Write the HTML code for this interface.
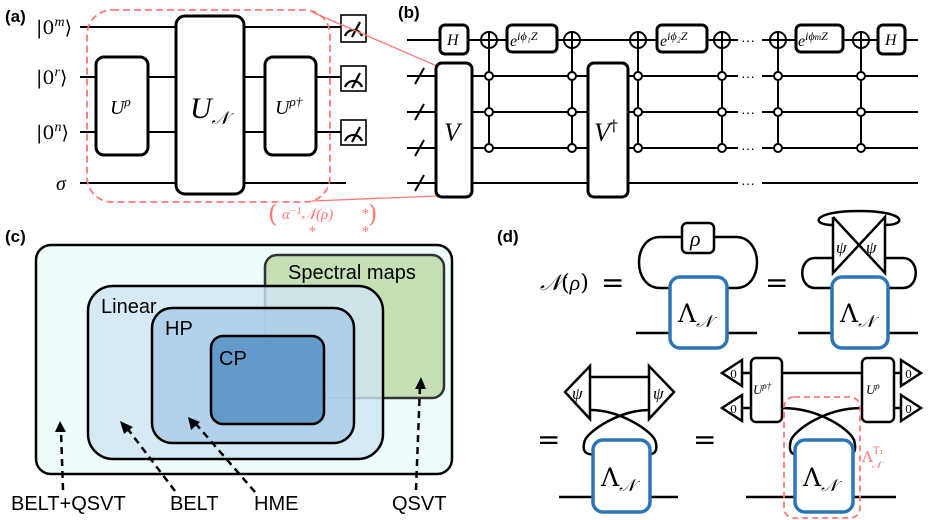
<!DOCTYPE html>
<html><head><meta charset="utf-8"><style>
html,body{margin:0;padding:0;background:#fff}
svg{display:block}
.s{font-family:"Liberation Sans",sans-serif}
.m{font-family:"Liberation Serif",serif;font-style:italic}
.k{font-family:"DejaVu Serif",serif;font-style:normal}
</style></head><body>
<svg width="947" height="520" viewBox="0 0 947 520" xmlns="http://www.w3.org/2000/svg">
<g fill="none" stroke="#000" stroke-width="2">
<line x1="80" y1="27" x2="341" y2="27"/>
<line x1="80" y1="77" x2="341" y2="77"/>
<line x1="80" y1="132" x2="341" y2="132"/>
<line x1="80" y1="183" x2="346" y2="183"/>
</g>
<g fill="#fff" stroke="#000" stroke-width="3">
<rect x="96" y="57" width="52" height="98" rx="8"/>
<rect x="176" y="16" width="68" height="178" rx="9"/>
<rect x="265" y="57" width="51" height="98" rx="8"/>
</g>
<g fill="#fff" stroke="#000" stroke-width="1.6">
<rect x="341" y="15" width="25" height="27"/>
<rect x="341" y="66" width="25" height="25"/>
<rect x="341" y="120" width="25" height="25"/>
</g>
<g fill="none" stroke="#000" stroke-width="2.2">
<path d="M345,36 A9,9 0 0 1 362,36 M352,37 L360,22"/>
<path d="M345,87 A9,9 0 0 1 362,87 M352,88 L360,73"/>
<path d="M345,141 A9,9 0 0 1 362,141 M352,142 L360,127"/>
</g>
<rect x="87" y="10" width="243" height="192" rx="25" fill="none" stroke="#f77" stroke-width="1.8" stroke-dasharray="7,4"/>
<g stroke="#f77" stroke-width="1.3"><line x1="312" y1="12" x2="437" y2="66"/><line x1="312" y1="201" x2="437" y2="196"/></g>
<text x="5" y="22" class="s" font-weight="bold" font-size="17">(a)</text>
<g class="k" font-size="19">
<text x="36" y="34">|0<tspan class="m" font-size="14" dy="-8">m</tspan><tspan dy="8">⟩</tspan></text>
<text x="36" y="84">|0<tspan class="m" font-size="14" dy="-8">r</tspan><tspan dy="8">⟩</tspan></text>
<text x="36" y="139">|0<tspan class="m" font-size="14" dy="-8">n</tspan><tspan dy="8">⟩</tspan></text>
</g>
<text x="56" y="190" class="m" font-size="20">σ</text>
<text x="110" y="114" class="m" font-size="20">U<tspan font-size="13" dy="-8">ρ</tspan></text>
<text x="190" y="118" class="m" font-size="30">U<tspan font-size="18" dy="6">𝒩</tspan></text>
<text x="275" y="114" class="m" font-size="20">U<tspan font-size="13" dy="-8">ρ†</tspan></text>
<g fill="#f77" class="m" font-size="15">
<text x="268" y="222" class="k" font-size="24">(</text>
<text x="282" y="219">α<tspan font-size="10" dy="-5">−1</tspan><tspan dy="5">𝒩(ρ)</tspan></text>
<text x="361" y="218">*</text><text x="308" y="236">*</text><text x="361" y="236">*</text>
<text x="368" y="222" class="k" font-size="24">)</text>
</g>
<text x="398" y="18" class="s" font-weight="bold" font-size="17">(b)</text>
<g fill="none" stroke="#000" stroke-width="2">
<line x1="407" y1="40" x2="738" y2="40"/><line x1="762" y1="40" x2="918" y2="40"/>
<line x1="407" y1="76" x2="738" y2="76"/><line x1="762" y1="76" x2="918" y2="76"/>
<line x1="407" y1="112" x2="738" y2="112"/><line x1="762" y1="112" x2="918" y2="112"/>
<line x1="407" y1="148" x2="738" y2="148"/><line x1="762" y1="148" x2="918" y2="148"/>
<line x1="407" y1="183" x2="738" y2="183"/><line x1="762" y1="183" x2="918" y2="183"/>
<line x1="415" y1="84" x2="424" y2="68"/><line x1="415" y1="120" x2="424" y2="104"/>
<line x1="415" y1="156" x2="424" y2="140"/><line x1="415" y1="191" x2="424" y2="175"/>
</g>
<g fill="#000" font-size="14" class="s"><text x="741" y="81">···</text><text x="741" y="117">···</text><text x="741" y="153">···</text><text x="741" y="188">···</text><text x="741" y="45">···</text></g>
<g fill="#fff" stroke="#000" stroke-width="3">
<rect x="436" y="63" width="36" height="134" rx="6"/>
<rect x="588" y="63" width="40" height="134" rx="6"/>
<rect x="440" y="25" width="28" height="29" rx="5"/>
<rect x="878" y="25" width="27" height="29" rx="5"/>
<rect x="507" y="25" width="50" height="27" rx="5"/>
<rect x="657" y="25" width="50" height="27" rx="5"/>
<rect x="796" y="25" width="47" height="27" rx="5"/>
</g>
<g stroke="#000" stroke-width="2" fill="#fff">
<g id="cn"><circle cx="489" cy="40" r="8"/><line x1="489" y1="32" x2="489" y2="148"/><line x1="481" y1="40" x2="497" y2="40"/><circle cx="489" cy="76" r="4"/><circle cx="489" cy="112" r="4"/><circle cx="489" cy="148" r="4"/></g>
<use href="#cn" x="83"/><use href="#cn" x="149"/><use href="#cn" x="233"/><use href="#cn" x="289"/><use href="#cn" x="372"/>
</g>
<g class="m" font-size="16">
<text x="447" y="45">H</text><text x="885" y="45">H</text>
<text x="510" y="46">e<tspan font-size="12" dy="-6">iϕ₁Z</tspan></text>
<text x="660" y="46">e<tspan font-size="12" dy="-6">iϕ₂Z</tspan></text>
<text x="798" y="46">e<tspan font-size="12" dy="-6">iϕ<tspan font-size="9">m</tspan>Z</tspan></text>
<text x="444" y="141" font-size="26">V</text>
<text x="594" y="141" font-size="26">V<tspan class="k" font-size="16" dy="-10">†</tspan></text>
</g>
<text x="5" y="242" class="s" font-weight="bold" font-size="17">(c)</text>
<rect x="36" y="245" width="416" height="229" rx="15" fill="#effcfd" stroke="#000" stroke-width="2.5"/>
<rect x="265" y="255" width="179" height="143" rx="12" fill="#c5e0b4" stroke="#333" stroke-width="2.5"/>
<rect x="88" y="286" width="295" height="173" rx="25" fill="#cfe5f3" fill-opacity="0.8" stroke="#000" stroke-width="2.5"/>
<rect x="152" y="308" width="202" height="135" rx="20" fill="#a9cbe8" fill-opacity="0.8" stroke="#000" stroke-width="2.5"/>
<rect x="211" y="336" width="113" height="88" rx="12" fill="#5f97c7" fill-opacity="0.95" stroke="#000" stroke-width="2.5"/>
<g class="s" font-size="20" fill="#000">
<text x="288" y="279">Spectral maps</text>
<text x="101" y="313">Linear</text>
<text x="165" y="335">HP</text>
<text x="219" y="365">CP</text>
<text x="11" y="510">BELT+QSVT</text>
<text x="170" y="510">BELT</text>
<text x="254" y="510">HME</text>
<text x="392" y="510">QSVT</text>
</g>
<g stroke="#000" stroke-width="2.5" stroke-dasharray="7,5" fill="none">
<line x1="63" y1="490" x2="61" y2="430"/>
<line x1="175" y1="491" x2="127" y2="428"/>
<line x1="255" y1="492" x2="196" y2="424"/>
<line x1="416" y1="490" x2="420" y2="386"/>
</g>
<g fill="#000">
<polygon points="60,421 55,432 66,432"/>
<polygon points="120,421 124,434 133,427"/>
<polygon points="188,417 191,430 200,422"/>
<polygon points="421,377 415,389 426,389"/>
</g>
<text x="497" y="242" class="s" font-weight="bold" font-size="17">(d)</text>
<text x="540" y="290" class="m" font-size="22">𝒩<tspan class="k">(</tspan>ρ<tspan class="k">)</tspan></text>
<g class="k" font-size="28"><text x="601" y="292">=</text><text x="765" y="292">=</text><text x="537" y="449">=</text><text x="693" y="449">=</text></g>
<g fill="none" stroke="#000" stroke-width="2.5">
<line x1="636" y1="333" x2="757" y2="333"/><line x1="798" y1="333" x2="918" y2="333"/>
<line x1="559" y1="497" x2="678" y2="497"/><line x1="746" y1="497" x2="896" y2="497"/>
<path d="M670,288 H660 C632,288 632,237 660,237 H682 M714,237 H736 C764,237 764,288 736,288 H727"/>
<path d="M833,217 V273 L885,217 V273 L833,217"/>
<path d="M833,225 C810,225 812,211 859,211 C906,211 908,225 885,225"/>
<path d="M833,258 H815 C798,258 798,288 815,288 H833 M885,258 H903 C920,258 920,288 903,288 H887"/>
<path d="M590,366 L565,392 L590,419 Z M649,366 L674,392 L649,419 Z"/>
<line x1="590" y1="377" x2="649" y2="377"/>
<path d="M590,410 C620,410 650,430 655,440 C660,455 650,455 645,454 M649,410 C620,410 590,430 585,440 C580,455 590,455 597,454"/>
<line x1="742" y1="373" x2="901" y2="373"/><line x1="742" y1="408" x2="751" y2="408"/><line x1="894" y1="408" x2="901" y2="408"/>
<path d="M782,408 C820,408 850,430 854,440 C858,455 850,455 848,454 M862,408 C825,408 795,430 791,440 C787,455 795,455 799,454"/>
<path d="M742,360 L722,373 L742,386 Z M742,395 L722,408 L742,421 Z M901,360 L921,373 L901,386 Z M901,395 L921,408 L901,421 Z"/>
</g>
<g fill="#fff" stroke="#000" stroke-width="2.5">
<rect x="682" y="223" width="32" height="30" rx="5"/>
<rect x="751" y="358" width="31" height="64" rx="5"/>
<rect x="862" y="358" width="32" height="64" rx="5"/>
</g>
<g fill="#fff" stroke="#2e75b6" stroke-width="3.5">
<rect x="670" y="277" width="57" height="71" rx="10"/>
<rect x="832" y="277" width="56" height="71" rx="10"/>
<rect x="593" y="440" width="57" height="72" rx="10"/>
<rect x="795" y="440" width="58" height="72" rx="10"/>
</g>
<rect x="784" y="397" width="76" height="121" rx="10" fill="none" stroke="#f77" stroke-width="1.8" stroke-dasharray="6,4"/>
<g class="m" font-size="22">
<text x="690" y="246">ρ</text>
<text x="678" y="322" class="k" font-size="25">Λ<tspan class="m" font-size="17" dy="5">𝒩</tspan></text>
<text x="840" y="322" class="k" font-size="25">Λ<tspan class="m" font-size="17" dy="5">𝒩</tspan></text>
<text x="601" y="486" class="k" font-size="25">Λ<tspan class="m" font-size="17" dy="5">𝒩</tspan></text>
<text x="803" y="486" class="k" font-size="25">Λ<tspan class="m" font-size="17" dy="5">𝒩</tspan></text>
<text x="836" y="253" font-size="17">ψ</text><text x="866" y="253" font-size="17">ψ</text>
<text x="572" y="399" font-size="17">ψ</text><text x="653" y="399" font-size="17">ψ</text>
<text x="753" y="394" font-size="13">U<tspan font-size="9" dy="-5">ρ†</tspan></text>
<text x="866" y="394" font-size="13">U<tspan font-size="9" dy="-5">ρ</tspan></text>
<text x="730" y="378" font-size="11" class="k">0</text><text x="730" y="413" font-size="11" class="k">0</text>
<text x="905" y="378" font-size="11" class="k">0</text><text x="905" y="413" font-size="11" class="k">0</text>
<text x="862" y="462" font-size="15" class="k" fill="#f77">Λ<tspan font-size="10" dy="-8">T₁</tspan><tspan class="m" font-size="10" dx="-12" dy="14">𝒩</tspan></text>
</g>
</svg>
</body></html>
